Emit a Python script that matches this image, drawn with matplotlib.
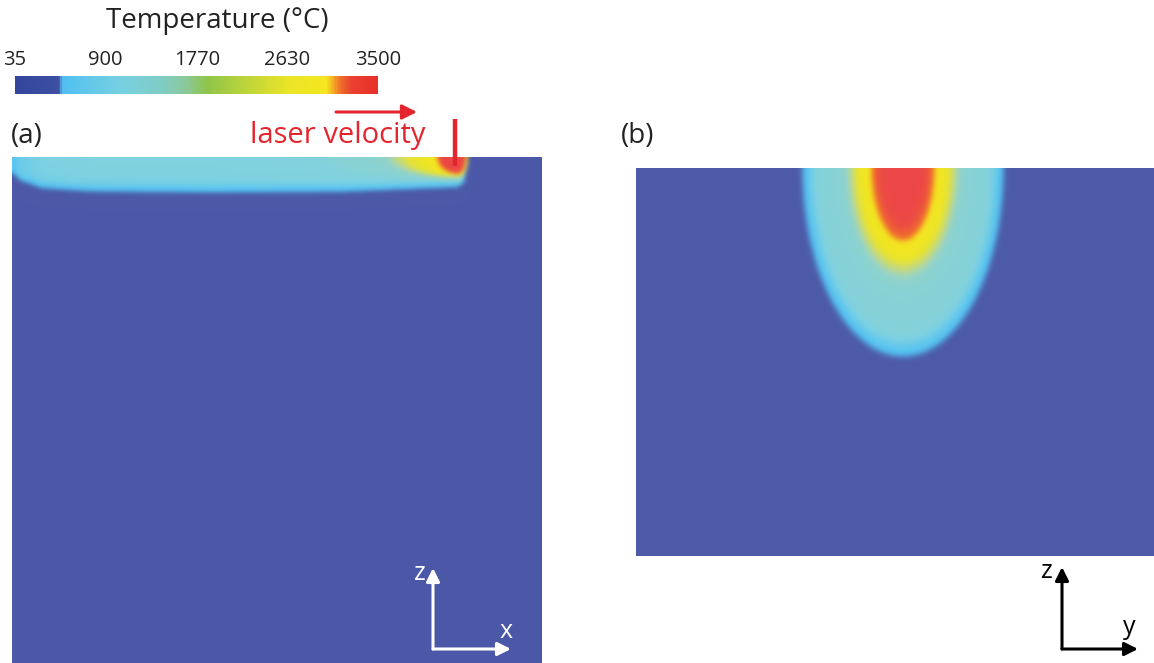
"""
Laser melt pool temperature field
---------------------------------
(a) longitudinal section x-z, (b) cross section y-z.
"""

import numpy as np
import matplotlib
matplotlib.use("Agg")
import matplotlib.pyplot as plt
from matplotlib.colors import LinearSegmentedColormap, Normalize
from matplotlib.cm import ScalarMappable

# colour bar
t_min, t_max = 35, 3500
cbar_ticks = [35, 900, 1770, 2630, 3500]

# (a) heated trail behind the laser, read at stations along x (um from left edge)
trail_x = [0, 8, 30, 80, 200, 330, 420, 445, 452, 456]
trail_depth = [18, 24, 31, 34, 35, 34, 30, 29, 25, 0]
trail_surf = [650, 900, 1050, 1100, 1100, 1150, 1250, 1300, 1300, 1300]
# fraction of surface temperature kept at depth / trail depth
trail_prof_s = [0, 0.6, 0.8, 0.9, 1.0, 1.1, 1.4]
trail_prof_g = [1, 0.97, 0.85, 0.62, 0.45, 0.2, 0]

# (a) isotherms around the laser spot
key_x0 = 446
key_T = [3500, 3300, 3000, 2700, 2500, 1500, 1300]
key_back = [10, 18, 22, 36, 52, 72, 130]
key_front = [4, 7, 8, 9, 10, 10, 10]
key_depth = [10, 16, 17, 18, 19, 21, 25]

# (b) isotherms in the cross section (half width at surface, depth)
sec_T = [3500, 3150, 3000, 2700, 2500, 1500, 1300, 1250, 900, 550, 35]
sec_hw = [15, 30, 33, 44, 47, 56, 72, 84, 92, 99, 111]
sec_depth = [40, 70, 75, 90, 95, 110, 140, 164, 176, 186, 204]

W, H = 1154, 663


def nested_field(u, v, back, depth, temps, front=None):
    n = len(temps)
    rs = []
    for k in range(n):
        a = back[k] if front is None else np.where(u < 0, back[k], front[k])
        rs.append(np.sqrt((u / a) ** 2 + (v / depth[k]) ** 2))
    level = np.full(u.shape, n - 1.0)
    for k in range(n - 1):
        mask = (rs[k] >= 1) & (rs[k + 1] < 1)
        t = (rs[k] - 1) / np.maximum(rs[k] - rs[k + 1], 1e-9)
        level[mask] = k + t[mask]
    level[rs[0] < 1] = 0
    T = np.interp(level, np.arange(n), temps)
    return T, rs[-1] >= 1


def blur(img, sigma):
    # separable gaussian blur of an rgba image, edges padded
    r = int(3 * sigma)
    k = np.exp(-0.5 * (np.arange(-r, r + 1) / sigma) ** 2)
    k /= k.sum()
    p = np.pad(img, ((r, r), (0, 0), (0, 0)), mode="edge")
    img = sum(k[i] * p[i:i + img.shape[0]] for i in range(2 * r + 1))
    p = np.pad(img, ((0, 0), (r, r), (0, 0)), mode="edge")
    img = sum(k[i] * p[:, i:i + img.shape[1]] for i in range(2 * r + 1))
    return np.clip(img, 0, 1)


def fig_xy(x, y):
    # pixel position (top-left origin) -> figure fraction
    return x / W, 1 - y / H


stops = [
    (0.125, "#5083c6"),
    (0.14, "#50c0f2"), (0.20, "#5cc6ef"), (0.30, "#80d2e0"),
    (0.40, "#8ad2d2"), (0.47, "#a6d6b8"), (0.53, "#b8d890"),
    (0.65, "#d4dc60"), (0.76, "#ece526"), (0.86, "#f5e61f"),
    (0.875, "#f5b423"), (0.90, "#ef6a2c"), (0.93, "#ec4a44"),
    (1.00, "#ec4646")]
bar_stops = [
    (0.14, "#52c0f0"), (0.20, "#62c8ea"), (0.30, "#78d0df"),
    (0.40, "#80ccc6"), (0.47, "#8bc89a"), (0.53, "#8fc54a"),
    (0.65, "#c2d638"), (0.76, "#ece526"), (0.86, "#f5e61f"),
    (0.875, "#f5b423"), (0.90, "#ef6a2c")]
cmap = LinearSegmentedColormap.from_list(
    "melt", [(0.00, "#4c59a7"), (0.10, "#4c5aa8")] + stops)
cbar_cmap = LinearSegmentedColormap.from_list(
    "melt_bar", [(0.00, "#34469c"), (0.12, "#3d4fa3"), (0.128, "#55b8ee")] + bar_stops
    + [(0.93, "#ea4030"), (1.00, "#e8302a")])
norm = Normalize(t_min, t_max)

plt.rcParams["font.family"] = ["Open Sans", "DejaVu Sans"]
fig = plt.figure(figsize=(W / 100, H / 100), dpi=100)

# ---- panel (a)
xa = np.arange(530) + 0.5
va = np.arange(506) + 0.5
X, V = np.meshgrid(xa, va)
d = np.interp(X, trail_x, trail_depth)
ts = np.interp(X, trail_x, trail_surf)
s = np.where(d > 0.5, V / np.maximum(d, 0.5), 99)
Ta = t_min + (ts - t_min) * np.interp(s, trail_prof_s, trail_prof_g)
Tk, outside = nested_field(X - key_x0, V, key_back, key_depth, key_T, key_front)
Ta = np.where(outside, Ta, np.maximum(Ta, Tk))

ax_a = fig.add_axes([12 / W, 0, 530 / W, 506 / H])
ax_a.imshow(blur(cmap(norm(Ta)), 2.2), extent=[0, 530, -506, 0], origin="upper",
            aspect="auto", interpolation="bilinear")
ax_a.axis("off")

# ---- panel (b)
ub = np.arange(-267, 251) + 0.5
vb = np.arange(388) + 0.5
U, VB = np.meshgrid(ub, vb)
Tb, out_b = nested_field(U, VB, sec_hw, sec_depth, sec_T)
Tb = np.where(out_b, t_min, Tb)

ax_b = fig.add_axes([636 / W, (H - 556) / H, 518 / W, 388 / H])
ax_b.imshow(blur(cmap(norm(Tb)), 2.6), extent=[-267, 251, -388, 0], origin="upper",
            aspect="auto", interpolation="bilinear")
ax_b.axis("off")

# ---- colour bar
cax = fig.add_axes([15 / W, (H - 94) / H, 363 / W, 18 / H])
cb = fig.colorbar(ScalarMappable(norm=norm, cmap=cbar_cmap), cax=cax,
                  orientation="horizontal", ticks=cbar_ticks)
cb.outline.set_visible(False)
cax.xaxis.set_ticks_position("top")
cax.tick_params(length=0, pad=4, labelsize=14.5, labelcolor="#222222")
cax.set_xticklabels([str(t) for t in cbar_ticks])
fig.text(*fig_xy(217, 21), "Temperature (°C)", ha="center", va="center",
         fontsize=20, color="#222222")

# ---- labels
fig.text(*fig_xy(11, 136), "(a)", ha="left", va="center", fontsize=20, color="#222222")
fig.text(*fig_xy(621, 136), "(b)", ha="left", va="center", fontsize=20, color="#222222")
red = "#e3262d"
fig.text(*fig_xy(425, 136), "laser velocity", ha="right", va="center",
         fontsize=21, color=red)
fig.add_artist(plt.Line2D([455 / W, 455 / W], [1 - 119 / H, 1 - 166 / H],
                          color=red, lw=3.2, solid_capstyle="butt"))
ax_a.annotate("", xy=fig_xy(417, 112), xytext=fig_xy(336, 112),
              xycoords="figure fraction", textcoords="figure fraction",
              arrowprops=dict(arrowstyle="-|>", color=red, lw=2.2,
                              mutation_scale=22, shrinkA=0, shrinkB=0))


def triad(ax, x0, y0, top, right, c, labels, lpos):
    for tip in [fig_xy(x0, top), fig_xy(right, y0)]:
        ax.annotate("", xy=tip, xytext=fig_xy(x0, y0),
                    xycoords="figure fraction", textcoords="figure fraction",
                    arrowprops=dict(arrowstyle="-|>", color=c, lw=2.2,
                                    mutation_scale=20, shrinkA=0, shrinkB=0),
                    annotation_clip=False)
    for lab, (lx, ly) in zip(labels, lpos):
        fig.text(*fig_xy(lx, ly), lab, ha="center", va="center",
                 fontsize=18, color=c)


triad(ax_a, 433, 649, 568, 511, "white", ["z", "x"], [(420, 573), (506, 631)])
triad(ax_b, 1062, 649, 567, 1138, "black", ["z", "y"], [(1047, 571), (1129, 628)])

fig.savefig("out.png", dpi=100)
